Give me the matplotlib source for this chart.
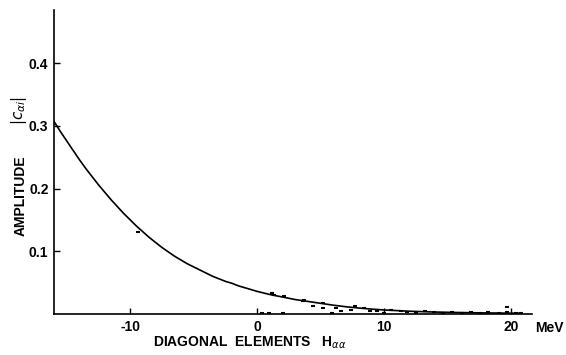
import matplotlib
matplotlib.use("Agg")
import matplotlib.pyplot as plt

# smooth curve (H_aa in MeV, amplitude)
curve_x = [-16.0, -15.5, -15, -14.5, -14, -13.5, -13, -12.5, -12, -11.5, -11, -10.5, -10,
           -9.5, -9, -8.5, -8, -7.5, -7, -6.5, -6, -5.5, -5, -4.5, -4, -3.5, -3, -2.5, -2,
           -1.5, -1, -0.5, 0, 1, 2, 3, 4, 5, 6, 7, 8, 9, 10, 12, 14, 16, 18, 20, 20.8]
curve_y = [0.307, 0.291, 0.276, 0.261, 0.246, 0.232, 0.219, 0.206, 0.194, 0.182, 0.171,
           0.160, 0.150, 0.140, 0.131, 0.122, 0.114, 0.106, 0.099, 0.092, 0.086, 0.080,
           0.075, 0.070, 0.065, 0.060, 0.056, 0.052, 0.049, 0.045, 0.042, 0.039, 0.036,
           0.031, 0.027, 0.023, 0.020, 0.017, 0.014, 0.0115, 0.0095, 0.0078, 0.0064,
           0.0044, 0.0031, 0.0023, 0.0017, 0.0013, 0.0012]

# scattered individual amplitudes near the axis
pts_x = [-9.4, 1.2, 1.3, 2.1, 0.4, 0.9, 2.0, 3.6, 3.7, 4.4, 5.2, 5.2, 5.9, 6.2, 6.6, 7.4,
         7.7, 8.4, 8.9, 9.4, 10.0, 10.5, 11.3, 11.8, 12.5, 13.2, 13.9, 14.6, 15.3,
         16.1, 16.8, 17.5, 18.2, 19.0, 19.7, 19.7, 20.4, 20.8]
pts_y = [0.131, 0.033, 0.031, 0.029, 0.001, 0.001, 0.001, 0.020, 0.022, 0.012, 0.009,
         0.017, 0.002, 0.009, 0.004, 0.007, 0.012, 0.010, 0.004, 0.005, 0.002, 0.006,
         0.004, 0.003, 0.002, 0.004, 0.003, 0.002, 0.003, 0.002, 0.003, 0.002, 0.003,
         0.002, 0.011, 0.003, 0.002, 0.002]

xticks = [-10, 0, 10, 20]
yticks = [0.1, 0.2, 0.3, 0.4]

plt.rcParams["font.family"] = ["Liberation Sans", "DejaVu Sans"]

fig = plt.figure(figsize=(5.66, 3.55), dpi=100)
ax = fig.add_axes([0.0954, 0.1155, 0.845, 0.857])

ax.plot(curve_x, curve_y, color="black", lw=1.2)
ax.plot(pts_x, pts_y, ls="none", marker="_", ms=3, mew=1.5, color="black")

ax.set_xlim(-16, 21.65)
ax.set_ylim(0, 0.485)
ax.spines["top"].set_visible(False)
ax.spines["right"].set_visible(False)
ax.spines["left"].set_linewidth(1.2)
ax.spines["bottom"].set_linewidth(1.2)

ax.set_xticks(xticks)
ax.set_xticklabels([str(t) for t in xticks])
ax.set_yticks(yticks)
ax.set_yticklabels(["0.1", "0.2", "0.3", "0.4"])
ax.tick_params(direction="in", length=4, width=1, labelsize=10, pad=4)
for lab in ax.get_xticklabels() + ax.get_yticklabels():
    lab.set_fontweight("bold")

ax.text(1.005, -0.045, "MeV", transform=ax.transAxes, ha="left", va="center",
        fontsize=10, fontweight="bold")
fig.text(0.033, 0.69, r"$|c_{\alpha i}|$", rotation=90, ha="center", va="center",
         fontsize=11)
fig.text(0.036, 0.45, "AMPLITUDE", rotation=90, ha="center", va="center",
         fontsize=10, fontweight="bold")
fig.text(0.27, 0.035, r"DIAGONAL  ELEMENTS   H$_{\alpha\alpha}$", ha="left", va="center",
         fontsize=10, fontweight="bold")

fig.savefig("out.png", dpi=100)
